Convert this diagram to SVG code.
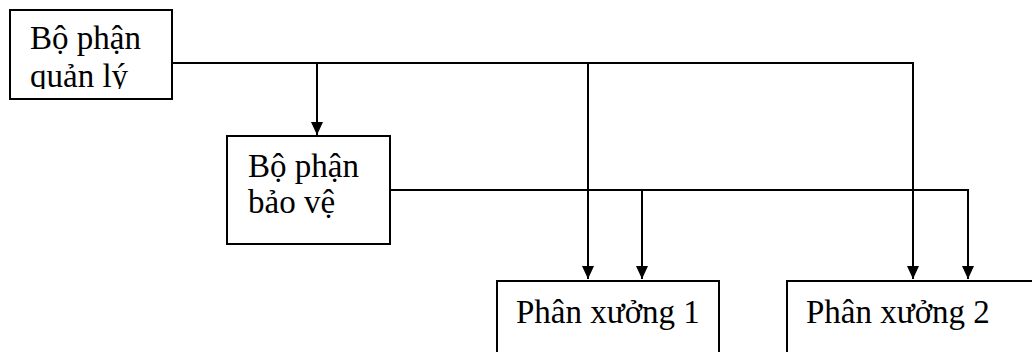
<svg xmlns="http://www.w3.org/2000/svg" width="1032" height="352" viewBox="0 0 1032 352">
  <style>
    .box { fill: #ffffff; stroke: #000000; stroke-width: 2; }
    .lbl { font-family: "Liberation Serif", "Times New Roman", serif; font-size: 33px; fill: #000000; }
    .wire { fill: none; stroke: #000000; stroke-width: 2; }
  </style>
  <defs>
    <!-- solid triangular arrowhead, tip at the end of the line -->
    <marker id="arrow" viewBox="0 0 13 12" refX="13" refY="6" markerWidth="13" markerHeight="12" markerUnits="userSpaceOnUse" orient="auto">
      <path d="M0,0 L13,6 L0,12 Z" fill="#000000"/>
    </marker>
    <clipPath id="clipQuanLy">
      <rect x="12" y="12" width="159" height="77"/>
    </clipPath>
  </defs>

  <rect width="1032" height="352" fill="#ffffff"/>

  <!-- connectors -->
  <g id="connectors">
    <!-- from management unit -->
    <polyline class="wire" points="172,63 913,63 913,279" marker-end="url(#arrow)"/>
    <line class="wire" x1="317" y1="63" x2="317" y2="135" marker-end="url(#arrow)"/>
    <line class="wire" x1="588" y1="63" x2="588" y2="279" marker-end="url(#arrow)"/>
    <!-- from security unit -->
    <polyline class="wire" points="390,190 968,190 968,279" marker-end="url(#arrow)"/>
    <line class="wire" x1="642" y1="190" x2="642" y2="279" marker-end="url(#arrow)"/>
  </g>

  <!-- management unit -->
  <g id="quan-ly">
    <rect class="box" x="10" y="10" width="162" height="89"/>
    <g clip-path="url(#clipQuanLy)">
      <text class="lbl" x="30" y="49">Bộ phận</text>
      <text class="lbl" x="30" y="87">quản lý</text>
    </g>
  </g>

  <!-- security unit -->
  <g id="bao-ve">
    <rect class="box" x="227" y="136" width="163" height="108"/>
    <text class="lbl" x="248" y="177">Bộ phận</text>
    <text class="lbl" x="248" y="213">bảo vệ</text>
  </g>

  <!-- workshop 1 -->
  <g id="phan-xuong-1">
    <rect class="box" x="497" y="281" width="222" height="100"/>
    <text class="lbl" x="516" y="323">Phân xưởng 1</text>
  </g>

  <!-- workshop 2 -->
  <g id="phan-xuong-2">
    <rect class="box" x="787" y="281" width="260" height="100"/>
    <text class="lbl" x="806" y="323">Phân xưởng 2</text>
  </g>
</svg>
